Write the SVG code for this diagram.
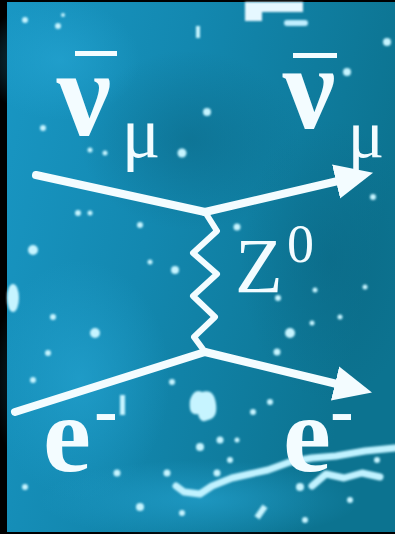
<svg xmlns="http://www.w3.org/2000/svg" width="395" height="534" viewBox="0 0 395 534">
<defs>
<linearGradient id="bg" x1="0" y1="0" x2="1" y2="0.3">
<stop offset="0" stop-color="#1997c4"/>
<stop offset="0.45" stop-color="#1388b0"/>
<stop offset="1" stop-color="#0c7390"/>
</linearGradient>
<radialGradient id="dark1" cx="0.5" cy="0.5" r="0.5">
<stop offset="0" stop-color="#0a6480" stop-opacity="0.5"/>
<stop offset="1" stop-color="#0a6480" stop-opacity="0"/>
</radialGradient>
<radialGradient id="light1" cx="0.5" cy="0.5" r="0.5">
<stop offset="0" stop-color="#26a6d4" stop-opacity="0.6"/>
<stop offset="1" stop-color="#26a6d4" stop-opacity="0"/>
</radialGradient>
<filter id="soft" x="-50%" y="-50%" width="200%" height="200%">
<feGaussianBlur stdDeviation="0.8"/>
</filter>
<marker id="arrow" markerUnits="userSpaceOnUse" markerWidth="40" markerHeight="40" refX="2" refY="0" viewBox="0 -20 40 40" orient="auto">
<path d="M0,-17.5 L38,0 L0,17.5 Z" fill="#f3fcff"/>
</marker>
<style>
.ln{stroke:#f3fcff;stroke-width:8;fill:none;stroke-linecap:round}
.wv{stroke:#f3fcff;stroke-width:6;fill:none;stroke-linejoin:round;stroke-linecap:round}
.lb{fill:#f3fcff;font-family:"Liberation Serif","Times New Roman",serif}
.b{font-weight:bold}
.st{fill:#c6f4ff;filter:url(#soft)}
.bar{fill:#f3fcff}
.trail{fill:none;stroke:#c0f2ff;stroke-width:7;stroke-linecap:round;stroke-linejoin:round;filter:url(#soft)}
</style>
</defs>
<rect x="0" y="0" width="395" height="534" fill="#000"/>
<rect x="7" y="2" width="388" height="530" fill="url(#bg)"/>
<ellipse cx="190" cy="140" rx="110" ry="90" fill="url(#dark1)"/>
<ellipse cx="330" cy="260" rx="90" ry="140" fill="url(#dark1)"/>
<ellipse cx="60" cy="60" rx="80" ry="60" fill="url(#light1)"/>
<ellipse cx="80" cy="380" rx="90" ry="120" fill="url(#light1)"/>
<ellipse cx="200" cy="500" rx="160" ry="40" fill="url(#light1)"/>
<!-- top white blob -->
<path d="M245,2 H303 V12 H262 V21 H245 Z" fill="#e6f8ff" filter="url(#soft)"/>
<rect x="284" y="20" width="24" height="6" rx="3" fill="#bfeeff" filter="url(#soft)"/>
<!-- stars -->
<g id="stars">
<circle class="st" cx="25" cy="20" r="3"/><circle class="st" cx="58" cy="26" r="3"/><circle class="st" cx="63" cy="15" r="2"/>
<rect class="st" x="196" y="26" width="4" height="12"/><circle class="st" cx="207" cy="112" r="4"/><circle class="st" cx="182" cy="153" r="4.5"/>
<circle class="st" cx="387" cy="42" r="4"/><circle class="st" cx="347" cy="72" r="4"/><circle class="st" cx="43" cy="128" r="3"/>
<circle class="st" cx="90" cy="150" r="2.5"/><circle class="st" cx="105" cy="153" r="2.5"/><circle class="st" cx="78" cy="213" r="3"/>
<circle class="st" cx="90" cy="213" r="2.5"/><circle class="st" cx="140" cy="225" r="3"/><circle class="st" cx="237" cy="227" r="3.5"/>
<circle class="st" cx="33" cy="250" r="5"/><circle class="st" cx="175" cy="270" r="4"/><circle class="st" cx="150" cy="262" r="2.5"/>
<ellipse class="st" cx="13" cy="298" rx="6" ry="14"/><circle class="st" cx="53" cy="317" r="3"/><circle class="st" cx="95" cy="333" r="5"/>
<circle class="st" cx="48" cy="353" r="3"/><circle class="st" cx="278" cy="298" r="3"/><circle class="st" cx="290" cy="333" r="5"/>
<circle class="st" cx="277" cy="352" r="3.5"/><circle class="st" cx="373" cy="197" r="3"/><circle class="st" cx="365" cy="287" r="2.5"/>
<circle class="st" cx="315" cy="290" r="2.5"/><circle class="st" cx="340" cy="317" r="2.5"/><circle class="st" cx="312" cy="323" r="2.5"/>
<circle class="st" cx="33" cy="380" r="3"/><circle class="st" cx="172" cy="382" r="3"/><path class="st" d="M190,400 q4,-12 12,-8 q12,-4 14,12 q2,14 -8,16 q-8,4 -10,-6 q-10,2 -8,-14 Z"/>
<circle class="st" cx="253" cy="412" r="3"/><circle class="st" cx="270" cy="402" r="3"/><circle class="st" cx="220" cy="440" r="3.5"/>
<circle class="st" cx="237" cy="440" r="2.5"/><circle class="st" cx="200" cy="447" r="4"/><circle class="st" cx="117" cy="473" r="3.5"/>
<circle class="st" cx="167" cy="473" r="3.5"/><circle class="st" cx="217" cy="473" r="3.5"/><circle class="st" cx="25" cy="487" r="3"/>
<circle class="st" cx="140" cy="507" r="4"/><circle class="st" cx="182" cy="513" r="3"/><rect class="st" x="258" y="505" width="6" height="14" transform="rotate(35 261 512)"/>
<circle class="st" cx="300" cy="487" r="4"/><circle class="st" cx="377" cy="460" r="3"/><rect class="st" x="120" y="395" width="5" height="20"/>
<circle class="st" cx="305" cy="520" r="3"/><circle class="st" cx="350" cy="500" r="3"/><circle class="st" cx="230" cy="460" r="3"/>
<path class="trail" d="M176,486 L184,492 L200,494 L212,486 L232,478 L250,474 L268,470 L290,462 L312,458 L336,456 L365,451 L395,448"/>
<path class="trail" d="M312,486 L326,474 L344,478 L362,473 L380,477"/>
</g>
<!-- connectors -->
<g id="connectors">
<line class="ln" x1="36" y1="175" x2="205" y2="212"/>
<line class="ln" x1="205" y1="212" x2="338" y2="181" marker-end="url(#arrow)"/>
<path class="wv" d="M205,212 L217,231 L193,253 L217,274 L193,296 L215,317 L194,337 L205,352"/>
<line class="ln" x1="15" y1="412" x2="205" y2="352"/>
<line class="ln" x1="205" y1="352" x2="337" y2="384" marker-end="url(#arrow)"/>
</g>
<!-- labels -->
<g id="nubar-in">
<rect class="bar" x="75" y="51" width="42" height="5"/>
<text class="lb b" x="84" y="135" font-size="122" text-anchor="middle">ν</text>
<text class="lb" x="141" y="157" font-size="72" text-anchor="middle">μ</text>
</g>
<g id="nubar-out">
<rect class="bar" x="293" y="53" width="44" height="5"/>
<text class="lb b" x="309" y="128" font-size="118" text-anchor="middle">ν</text>
<text class="lb" x="366" y="157" font-size="68" text-anchor="middle">μ</text>
</g>
<g id="z0">
<text class="lb" x="235" y="292" font-size="78">Z<tspan x="287" y="262" font-size="54">0</tspan></text>
</g>
<g id="e-in">
<text class="lb b" x="67" y="471" font-size="108" text-anchor="middle">e</text>
<text class="lb b" x="106" y="434" font-size="70" text-anchor="middle">-</text>
</g>
<g id="e-out">
<text class="lb b" x="307" y="471" font-size="108" text-anchor="middle">e</text>
<text class="lb b" x="342" y="434" font-size="70" text-anchor="middle">-</text>
</g>
</svg>
